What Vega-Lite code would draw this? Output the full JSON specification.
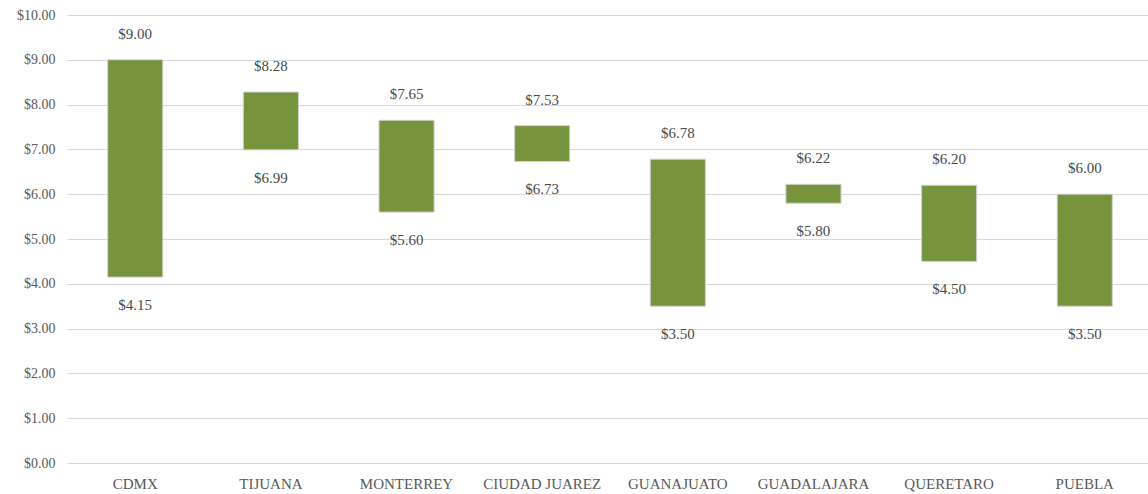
{
  "$schema": "https://vega.github.io/schema/vega-lite/v6.json",
  "width": 1086,
  "height": 448,
  "autosize": "none",
  "padding": {"left": 67, "top": 15, "right": 0, "bottom": 31},
  "background": "white",
  "config": {
    "view": {"stroke": null},
    "font": "Liberation Serif",
    "axis": {"labelFont": "Liberation Serif", "labelColor": "#595959"}
  },
  "data": {
    "values": [
      {"city": "CDMX", "low": 4.15, "high": 9.00},
      {"city": "TIJUANA", "low": 6.99, "high": 8.28},
      {"city": "MONTERREY", "low": 5.60, "high": 7.65},
      {"city": "CIUDAD JUAREZ", "low": 6.73, "high": 7.53},
      {"city": "GUANAJUATO", "low": 3.50, "high": 6.78},
      {"city": "GUADALAJARA", "low": 5.80, "high": 6.22},
      {"city": "QUERETARO", "low": 4.50, "high": 6.20},
      {"city": "PUEBLA", "low": 3.50, "high": 6.00}
    ]
  },
  "encoding": {
    "x": {
      "field": "city", "type": "nominal", "sort": null,
      "scale": {"paddingInner": 0.594, "paddingOuter": 0.3},
      "axis": {"title": null, "labelAngle": 0, "domain": false, "ticks": false, "labelPadding": 13, "labelFontSize": 15}
    }
  },
  "layer": [
    {
      "mark": {"type": "bar", "color": "#77933C", "stroke": "#d0d0d0", "strokeWidth": 1},
      "encoding": {
        "y": {
          "field": "low", "type": "quantitative",
          "scale": {"domain": [0, 10], "nice": false},
          "axis": {"title": null, "format": "$.2f", "values": [0,1,2,3,4,5,6,7,8,9,10], "domain": false, "ticks": false, "labelPadding": 12, "gridColor": "#d9d9d9", "gridWidth": 1.2, "labelFontSize": 14}
        },
        "y2": {"field": "high"}
      }
    },
    {
      "mark": {"type": "text", "dy": -26, "baseline": "middle", "fontSize": 15, "color": "#4a4a4a"},
      "encoding": {
        "y": {"field": "high", "type": "quantitative"},
        "text": {"field": "high", "type": "quantitative", "format": "$.2f"}
      }
    },
    {
      "mark": {"type": "text", "dy": 28, "baseline": "middle", "fontSize": 15, "color": "#4a4a4a"},
      "encoding": {
        "y": {"field": "low", "type": "quantitative"},
        "text": {"field": "low", "type": "quantitative", "format": "$.2f"}
      }
    }
  ]
}
